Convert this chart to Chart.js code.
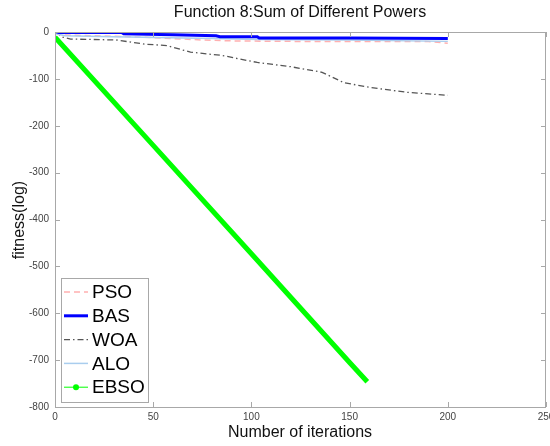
<!DOCTYPE html>
<html>
<head>
<meta charset="utf-8">
<title>Function 8</title>
<script src="https://cdn.jsdelivr.net/npm/chart.js@4.4.1/dist/chart.umd.min.js"></script>
<style>
    html, body { margin: 0; padding: 0; background: #fff; overflow: hidden; }
    #wrap { position: relative; width: 550px; height: 446px; }
</style>
</head>
<body>
<div id="wrap"><canvas id="fitChart"></canvas></div>
<script>
// Curves (iteration, fitness(log))
const psoIter = [0, 3, 10, 30, 50, 75, 90, 120, 150, 189, 200];
const psoVals = [-2, -6, -7, -9, -12, -17, -19, -20, -20, -20, -24];

const basIter = [0, 2, 34, 35, 60, 82, 84, 103, 104, 150, 200];
const basVals = [1, -1, -1, -4, -6, -8, -10, -10, -13, -13, -14];

const woaIter = [0, 4, 8, 31, 46, 57, 69, 85, 103, 120, 136, 147, 160, 180, 200];
const woaVals = [0, -11, -15, -17, -26, -29, -43, -50, -65, -74, -86, -108, -118, -129, -135];

const aloIter = [0, 5, 30, 80, 104, 150, 200];
const aloVals = [-3, -8, -10, -14, -16, -17, -20];

const ebsoIter = [0, 50, 100, 150, 159];
const ebsoVals = [-11, -242, -473, -705, -746];

const xTicks = [0, 50, 100, 150, 200, 250];
const yTicks = [0, -100, -200, -300, -400, -500, -600, -700, -800];

const seriesNames = ['PSO', 'BAS', 'WOA', 'ALO', 'EBSO'];

function toPoints(xs, ys) {
    return xs.map((x, i) => ({ x: x, y: ys[i] }));
}

const styles = {
    PSO:  { color: '#ffb0b0', width: 1.5, dash: [6, 4], order: 3 },
    BAS:  { color: '#0000ff', width: 3,   dash: [],    order: 1 },
    WOA:  { color: '#555555', width: 1.3, dash: [6, 3, 1.5, 3], order: 4 },
    ALO:  { color: '#a9cdee', width: 1.5, dash: [],    order: 2 },
    EBSO: { color: '#00ff00', width: 5,   dash: [],    order: 0 }
};

const seriesData = {
    PSO: toPoints(psoIter, psoVals),
    BAS: toPoints(basIter, basVals),
    WOA: toPoints(woaIter, woaVals),
    ALO: toPoints(aloIter, aloVals),
    EBSO: toPoints(ebsoIter, ebsoVals)
};

// MATLAB-like frame, inward ticks, titles and legend box
const matlabDecor = {
    id: 'matlabDecor',
    afterDraw(chart) {
        const ctx = chart.ctx;
        const a = chart.chartArea;
        const xs = chart.scales.x;
        const ys = chart.scales.y;
        ctx.save();
        ctx.strokeStyle = '#a8a8a8';
        ctx.lineWidth = 1;
        ctx.strokeRect(a.left + 0.5, a.top + 0.5, a.right - a.left - 1, a.bottom - a.top);
        ctx.beginPath();
        xTicks.forEach(v => {
            const px = Math.round(xs.getPixelForValue(v)) + 0.5;
            ctx.moveTo(px, a.bottom); ctx.lineTo(px, a.bottom - 5);
            ctx.moveTo(px, a.top); ctx.lineTo(px, a.top + 5);
        });
        yTicks.forEach(v => {
            const py = Math.round(ys.getPixelForValue(v)) + 0.5;
            ctx.moveTo(a.left, py); ctx.lineTo(a.left + 5, py);
            ctx.moveTo(a.right, py); ctx.lineTo(a.right - 5, py);
        });
        ctx.stroke();

        // titles
        ctx.fillStyle = '#111';
        ctx.textAlign = 'center';
        ctx.textBaseline = 'middle';
        ctx.font = '16px "Liberation Sans", Arial, sans-serif';
        ctx.fillText('Function 8:Sum of Different Powers', 300, 13);
        ctx.fillText('Number of iterations', 300, 433);
        ctx.translate(20, 220);
        ctx.rotate(-Math.PI / 2);
        ctx.fillText('fitness(log)', 0, 0);
        ctx.setTransform(1, 0, 0, 1, 0, 0);

        // legend
        const lx = 61, ly = 278, lw = 87, lh = 124;
        ctx.fillStyle = '#fff';
        ctx.fillRect(lx, ly, lw, lh);
        ctx.strokeStyle = '#a8a8a8';
        ctx.strokeRect(lx + 0.5, ly + 0.5, lw, lh);
        ctx.font = '19px "Liberation Sans", Arial, sans-serif';
        ctx.textAlign = 'left';
        seriesNames.forEach((name, i) => {
            const s = styles[name];
            const y = ly + 14 + i * 23.8;
            ctx.strokeStyle = s.color;
            ctx.lineWidth = name === 'EBSO' ? 1 : s.width;
            ctx.setLineDash(s.dash);
            ctx.beginPath();
            ctx.moveTo(64, y); ctx.lineTo(88, y);
            ctx.stroke();
            ctx.setLineDash([]);
            if (name === 'EBSO') {
                ctx.fillStyle = s.color;
                ctx.beginPath();
                ctx.arc(76, y, 3, 0, Math.PI * 2);
                ctx.fill();
            }
            ctx.fillStyle = '#000';
            ctx.fillText(name, 92, y + 1);
        });
        ctx.restore();
    }
};

const ctx = document.getElementById('fitChart');
new Chart(ctx, {
    type: 'line',
    data: {
        datasets: seriesNames.map(name => ({
            label: name,
            data: seriesData[name],
            borderColor: styles[name].color,
            borderWidth: styles[name].width,
            borderDash: styles[name].dash,
            order: styles[name].order,
            pointRadius: 0,
            fill: false,
            tension: 0
        }))
    },
    options: {
        responsive: true,
        maintainAspectRatio: false,
        animation: false,
        layout: { padding: { top: 32, right: 4, left: 0, bottom: 0 } },
        plugins: {
            legend: { display: false },
            title: { display: false },
            tooltip: { enabled: false }
        },
        scales: {
            x: {
                type: 'linear',
                min: 0,
                max: 250,
                grid: { display: false, drawTicks: false },
                border: { display: false },
                afterBuildTicks: s => { s.ticks = xTicks.map(v => ({ value: v })); },
                afterFit: s => { s.height = 39; s.paddingLeft = 0; s.paddingRight = 0; },
                ticks: {
                    color: '#444',
                    padding: 4,
                    maxRotation: 0,
                    autoSkip: false,
                    font: { size: 10, family: '"Liberation Sans", Arial, sans-serif' }
                }
            },
            y: {
                min: -800,
                max: 0,
                grid: { display: false, drawTicks: false },
                border: { display: false },
                afterBuildTicks: s => { s.ticks = yTicks.map(v => ({ value: v })); },
                afterFit: s => { s.width = 55; s.paddingTop = 0; s.paddingBottom = 0; },
                ticks: {
                    color: '#444',
                    padding: 6,
                    autoSkip: false,
                    font: { size: 10, family: '"Liberation Sans", Arial, sans-serif' }
                }
            }
        }
    },
    plugins: [matlabDecor]
});
</script>
</body>
</html>
